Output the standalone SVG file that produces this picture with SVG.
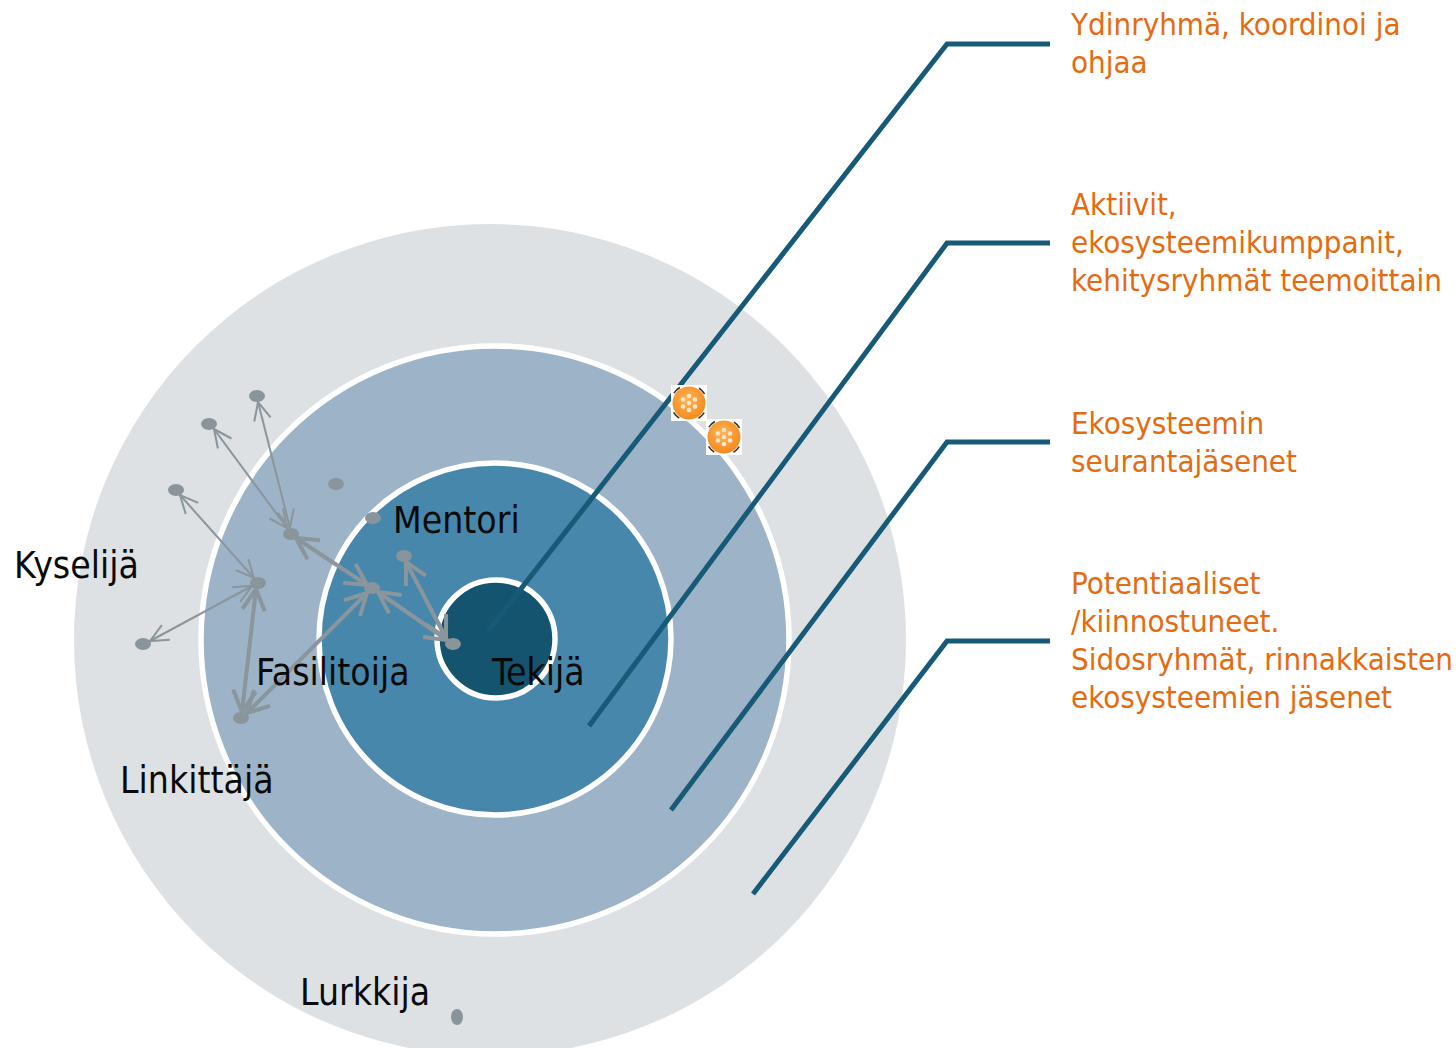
<svg xmlns="http://www.w3.org/2000/svg" width="1456" height="1048" viewBox="0 0 1456 1048">
  <style>
    .lbl { font-family: "DejaVu Sans Condensed", "DejaVu Sans", "Liberation Sans", sans-serif; font-stretch: condensed; font-size: 37px; fill: #0a0a0a; }
    .note { font-family: "DejaVu Sans Condensed", "DejaVu Sans", "Liberation Sans", sans-serif; font-stretch: condensed; font-size: 31px; fill: #e56b10; }
    .lead { fill: none; stroke: #175a78; stroke-width: 5; }
    .dot { fill: #89949b; }
    .thin { fill: none; stroke: #8a959c; stroke-width: 2; marker-start: url(#ahThin); marker-end: url(#ahThin); }
    .thick { fill: none; stroke: #8a959c; stroke-width: 4; marker-start: url(#ahThick); marker-end: url(#ahThick); }
  </style>
  <defs>
    <marker id="ahThin" viewBox="0 0 20 20" refX="18" refY="10" markerWidth="24" markerHeight="24" markerUnits="userSpaceOnUse" orient="auto-start-reverse">
      <path d="M3,3 L18,10 L3,17" fill="none" stroke="#8a959c" stroke-width="1.7"/>
    </marker>
    <marker id="ahThick" viewBox="0 0 24 24" refX="21" refY="12" markerWidth="30" markerHeight="30" markerUnits="userSpaceOnUse" orient="auto-start-reverse">
      <path d="M4,3 L21,12 L4,21" fill="none" stroke="#8a959c" stroke-width="3.2"/>
    </marker>
    <radialGradient id="og" cx="0.45" cy="0.4" r="0.6">
      <stop offset="0" stop-color="#ffb45a"/>
      <stop offset="1" stop-color="#f38b1c"/>
    </radialGradient>
    <g id="icon">
      <rect x="-18" y="-18" width="36" height="36" fill="#ffffff"/>
      <circle r="18" fill="none" stroke="#2a2a2a" stroke-width="1.5" stroke-dasharray="8 20.27" stroke-dashoffset="-10.14"/>
      <circle r="16.5" fill="url(#og)"/>
      <g fill="#ffe6c8">
        <circle cx="0" cy="-7" r="2.3"/>
        <circle cx="6" cy="-3.5" r="2.3"/>
        <circle cx="6" cy="3.5" r="2.3"/>
        <circle cx="0" cy="7" r="2.3"/>
        <circle cx="-6" cy="3.5" r="2.3"/>
        <circle cx="-6" cy="-3.5" r="2.3"/>
        <circle cx="0" cy="0" r="2.3"/>
      </g>
    </g>
  </defs>

  <g id="rings">
    <circle id="ring-outer" cx="490" cy="640" r="416" fill="#dde1e4"/>
    <circle id="ring-2" cx="495" cy="640" r="294" fill="#9db3c7" stroke="#ffffff" stroke-width="5.5"/>
    <circle id="ring-3" cx="495" cy="639" r="176" fill="#4787ab" stroke="#ffffff" stroke-width="5.5"/>
    <circle id="ring-core" cx="496" cy="639" r="59" fill="#14546f" stroke="#ffffff" stroke-width="5.5"/>
  </g>

  <g id="leaders">
    <polyline class="lead" points="488,631 947,44 1050,44"/>
    <polyline class="lead" points="589,726 947,243 1050,243"/>
    <polyline class="lead" points="671,810 947,442 1050,442"/>
    <polyline class="lead" points="753,894 947,641 1050,641"/>
  </g>

  <g id="icons">
    <use href="#icon" x="689" y="403"/>
    <use href="#icon" x="724" y="437"/>
  </g>

  <g id="connectors">
    <line class="thin" x1="290" y1="528" x2="258" y2="402"/>
    <line class="thin" x1="287" y1="528" x2="214" y2="429"/>
    <line class="thin" x1="254" y1="578" x2="180" y2="495"/>
    <line class="thin" x1="252" y1="586" x2="150" y2="641"/>
    <line class="thick" x1="296" y1="538" x2="367" y2="585"/>
    <line class="thick" x1="256" y1="589" x2="242" y2="712"/>
    <line class="thick" x1="367" y1="593" x2="247" y2="713"/>
    <line class="thick" x1="378" y1="592" x2="447" y2="640"/>
    <line class="thick" x1="406" y1="562" x2="446" y2="638"/>
  </g>

  <g id="nodes">
    <ellipse class="dot" cx="257" cy="396" rx="8" ry="6"/>
    <ellipse class="dot" cx="209" cy="424" rx="8" ry="6"/>
    <ellipse class="dot" cx="176" cy="490" rx="8" ry="6"/>
    <ellipse class="dot" cx="336" cy="484" rx="8" ry="6"/>
    <ellipse class="dot" cx="373" cy="518" rx="8" ry="6"/>
    <ellipse class="dot" cx="291" cy="534" rx="8" ry="6"/>
    <ellipse class="dot" cx="258" cy="583" rx="8" ry="6"/>
    <ellipse class="dot" cx="404" cy="556" rx="8" ry="6"/>
    <ellipse class="dot" cx="372" cy="588" rx="8" ry="6"/>
    <ellipse class="dot" cx="143" cy="644" rx="8" ry="6"/>
    <ellipse class="dot" cx="453" cy="644" rx="8" ry="6"/>
    <ellipse class="dot" cx="241" cy="718" rx="8" ry="6"/>
    <ellipse class="dot" cx="457" cy="1017" rx="6" ry="8"/>
  </g>

  <g id="role-labels">
    <text class="lbl" x="14" y="578">Kyselijä</text>
    <text class="lbl" x="393" y="533">Mentori</text>
    <text class="lbl" x="256" y="685">Fasilitoija</text>
    <text class="lbl" x="492" y="685">Tekijä</text>
    <text class="lbl" x="120" y="793">Linkittäjä</text>
    <text class="lbl" x="300" y="1005">Lurkkija</text>
  </g>

  <g id="note-core">
    <text class="note" x="1071" y="35">Ydinryhmä, koordinoi ja</text>
    <text class="note" x="1071" y="73">ohjaa</text>
  </g>
  <g id="note-active">
    <text class="note" x="1071" y="215">Aktiivit,</text>
    <text class="note" x="1071" y="253">ekosysteemikumppanit,</text>
    <text class="note" x="1071" y="291">kehitysryhmät teemoittain</text>
  </g>
  <g id="note-followers">
    <text class="note" x="1071" y="434">Ekosysteemin</text>
    <text class="note" x="1071" y="472">seurantajäsenet</text>
  </g>
  <g id="note-potential">
    <text class="note" x="1071" y="594">Potentiaaliset</text>
    <text class="note" x="1071" y="632">/kiinnostuneet.</text>
    <text class="note" x="1071" y="670">Sidosryhmät, rinnakkaisten</text>
    <text class="note" x="1071" y="708">ekosysteemien jäsenet</text>
  </g>
</svg>
